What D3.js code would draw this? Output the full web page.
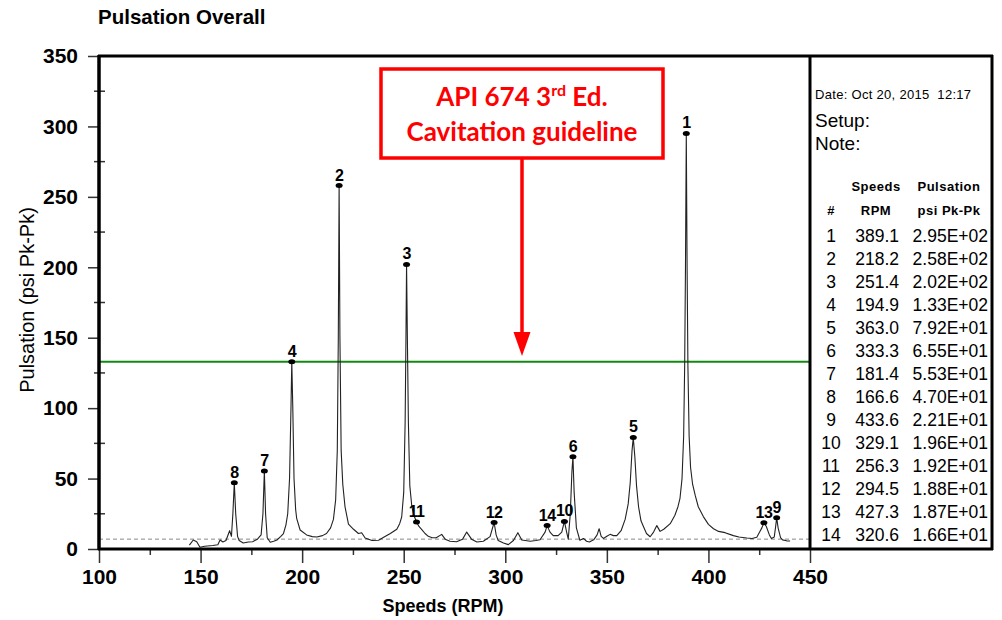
<!DOCTYPE html>
<html>
<head>
<meta charset="utf-8">
<script src="https://cdn.jsdelivr.net/npm/d3@7"></script>
<style>
body { margin: 0; background: #fff; }
svg { display: block; font-family: Arial, 'Liberation Sans', sans-serif; }
</style>
</head>
<body>
<div id="chart"></div>
<script>
'use strict';

const width = 1002;
const height = 620;

// axis ticks
const speedTicks = [100, 150, 200, 250, 300, 350, 400, 450];
const speedMinor = [125, 175, 225, 275, 325, 375, 425];
const pulsationTicks = [0, 50, 100, 150, 200, 250, 300, 350];
const pulsationMinor = [25, 75, 125, 175, 225, 275, 325];

// spectrum trace
const curveSpeed = [
	144.5, 146.4, 148.1, 149.7, 152, 156, 158.5, 159.6, 161, 162.5,
	164.3, 165.2, 165.9, 166.6, 167.3, 168.2, 169, 171, 173.5, 175.6,
	178, 179.8, 180.7, 181.4, 182, 182.8, 184.3, 186, 187.6, 189.5,
	190.8, 192, 192.9, 193.8, 194.5, 194.9, 195.4, 196, 196.8, 197.3,
	199, 202.2, 205, 207.2, 210, 212, 214, 215.4, 216.5, 217.3,
	217.8, 218.2, 218.6, 219.2, 220, 221.1, 222.8, 225.3, 227.7, 229.3,
	231, 234.4, 237.6, 241, 243.4, 246.6, 248, 249, 250, 250.7,
	251.1, 251.4, 251.8, 252.3, 253, 254, 255, 256.3, 257.5, 258.8,
	260.5, 262.1, 264, 266, 268.7, 270.4, 272.8, 276, 279, 281,
	283.4, 286, 289.2, 292.5, 294.5, 295.5, 296.5, 299.1, 301.5, 304,
	306.2, 308.1, 312.3, 315, 317.1, 319.6, 320.6, 322, 323.6, 326,
	327.8, 329.1, 330.2, 331, 332, 332.8, 333.3, 333.9, 335, 336.7,
	338.5, 340, 341.4, 343.5, 345.2, 346.2, 347.2, 348.3, 350, 351.6,
	353.2, 354.9, 357, 359, 360.5, 361.5, 362.4, 363.0, 363.8, 364.6,
	365.6, 366.8, 368, 369.5, 371.3, 373, 374.6, 376.2, 378, 381.2,
	383.5, 385, 386, 387, 387.8, 388.3, 388.7, 389.1, 389.5, 389.9,
	390.5, 391.2, 392.2, 393.5, 395, 397.5, 400, 402.5, 405, 408.2,
	412.3, 415, 418.9, 421.5, 423.8, 425.2, 426.3, 427.3, 428.5, 430,
	431, 432.4, 433, 433.6, 434.3, 435.5, 436.5, 438.5, 440.2
];
const curvePulsation = [
	2.8, 6.4, 5.2, 1.2, 2, 2.5, 3, 6.4, 5, 6,
	13, 9, 25, 47, 25, 9, 6, 4.3, 5, 5.2,
	7, 10, 25, 55.3, 25, 8, 4.8, 5.5, 6.4, 9,
	11, 17, 25, 50, 100, 133, 100, 50, 28, 21.8,
	13.5, 10, 8.8, 8.5, 9.5, 11, 15, 21, 35, 70,
	150, 258, 150, 70, 46, 30, 17.7, 14, 11, 11.5,
	7.8, 6, 6.2, 9, 11, 14, 18, 22.7, 40, 90,
	150, 202, 150, 90, 45, 30, 24, 19.2, 16, 14,
	11, 9, 8, 8, 10.4, 7, 5.5, 5.2, 7, 12,
	7, 5, 5.5, 8.8, 18.8, 10, 6, 4.3, 3.1, 6,
	11.6, 6.4, 5.5, 6, 6.6, 12, 16.6, 12, 9.5, 9.5,
	12, 19.6, 12, 7, 25, 55, 65.5, 40, 15, 6.2,
	7.5, 5.5, 5, 6.5, 10, 14.4, 9, 7.5, 9, 10.4,
	9.5, 9.5, 13, 21, 32, 47, 70, 79.2, 65, 45,
	30, 20, 16, 11, 8.7, 12, 16.6, 12.5, 14, 18,
	24, 30, 36, 50, 80, 130, 200, 295, 200, 130,
	80, 58, 46, 38, 30, 23, 17.5, 14.4, 12.5, 11.6,
	9.5, 8.5, 7.8, 7.5, 8.3, 12, 15, 18.7, 16, 10,
	7.5, 8.5, 15, 22.1, 15, 8, 6.5, 5.8, 5.7
];

// labelled peaks (also the table)
const peakNo = [1, 2, 3, 4, 5, 6, 7, 8, 9, 10, 11, 12, 13, 14];
const peakSpeed = [389.1, 218.2, 251.4, 194.9, 363.0, 333.3, 181.4, 166.6, 433.6, 329.1, 256.3, 294.5, 427.3, 320.6];
const peakPulsation = [295, 258, 202, 133, 79.2, 65.5, 55.3, 47.0, 22.1, 19.6, 19.2, 18.8, 18.7, 16.6];

const guideline = 133;
const noiseFloor = 7;

function sci(v) {
	const e = Math.floor(Math.log10(v));
	const m = (v / Math.pow(10, e)).toFixed(2);
	const sign = e < 0 ? '-' : '+';
	return m + 'E' + sign + String(Math.abs(e)).padStart(2, '0');
}

const svg = d3.select('#chart')
	.append('svg')
	.attr('width', width)
	.attr('height', height);

const x = d3.scaleLinear().domain([100, 450]).range([99, 810]);
const y = d3.scaleLinear().domain([0, 350]).range([549, 56]);

// title
svg.append('text')
	.attr('x', 98)
	.attr('y', 24)
	.style('font-size', '20.5px')
	.style('font-weight', 'bold')
	.text('Pulsation Overall');

// dashed noise floor
svg.append('line')
	.attr('x1', x(100)).attr('x2', x(450))
	.attr('y1', y(noiseFloor)).attr('y2', y(noiseFloor))
	.attr('stroke', '#888')
	.attr('stroke-width', 1)
	.attr('stroke-dasharray', '4,3');

// guideline
svg.append('line')
	.attr('x1', x(100)).attr('x2', x(450))
	.attr('y1', y(guideline)).attr('y2', y(guideline))
	.attr('stroke', '#108a10')
	.attr('stroke-width', 2);

// spectrum
const pts = curveSpeed.map((s, i) => [s, curvePulsation[i]]);
const line = d3.line().x(d => x(d[0])).y(d => y(d[1]));
svg.append('path')
	.datum(pts)
	.attr('d', line)
	.attr('fill', 'none')
	.attr('stroke', '#222')
	.attr('stroke-width', 1.1)
	.attr('stroke-linejoin', 'round');

// peak markers
const peaks = svg.append('g');
peakNo.forEach((n, i) => {
	peaks.append('ellipse')
		.attr('cx', x(peakSpeed[i]))
		.attr('cy', y(peakPulsation[i]))
		.attr('rx', 3.5).attr('ry', 2.5)
		.attr('fill', '#000');
	peaks.append('text')
		.attr('x', x(peakSpeed[i]))
		.attr('y', y(peakPulsation[i]) - 5)
		.attr('text-anchor', 'middle')
		.style('font-size', '16px')
		.style('font-weight', 'bold')
		.style('letter-spacing', '-0.6px')
		.text(n);
});

// axes
const yAxis = svg.append('g')
	.attr('transform', `translate(${x(100)},0)`)
	.call(d3.axisLeft(y).tickValues(pulsationTicks).tickSize(11).tickPadding(10));
yAxis.select('.domain').remove();
yAxis.selectAll('line').attr('stroke', '#333').attr('stroke-width', 1.5);
yAxis.selectAll('text')
	.style('font-size', '21px')
	.style('font-weight', 'bold')
	.style('font-family', 'Arial, Liberation Sans, sans-serif')
	.attr('fill', '#000');

svg.append('g').selectAll('line')
	.data(pulsationMinor)
	.enter().append('line')
	.attr('x1', x(100) - 5).attr('x2', x(100) + 6)
	.attr('y1', d => y(d)).attr('y2', d => y(d))
	.attr('stroke', '#333').attr('stroke-width', 1.5);

const xAxis = svg.append('g')
	.attr('transform', `translate(0,${y(0)})`)
	.call(d3.axisBottom(x).tickValues(speedTicks).tickSize(14).tickPadding(6));
xAxis.select('.domain').remove();
xAxis.selectAll('line').attr('stroke', '#333').attr('stroke-width', 1.5);
xAxis.selectAll('text')
	.style('font-size', '21px')
	.style('font-weight', 'bold')
	.style('font-family', 'Arial, Liberation Sans, sans-serif')
	.attr('fill', '#000');

const xMinor = svg.append('g')
	.attr('transform', `translate(0,${y(0)})`)
	.call(d3.axisBottom(x).tickValues(speedMinor).tickSize(6).tickFormat(''));
xMinor.select('.domain').remove();
xMinor.selectAll('line').attr('stroke', '#333').attr('stroke-width', 1.5);

// frame: plot + side panel
const frame = svg.append('g').attr('stroke', '#000').attr('fill', 'none');
frame.append('line').attr('x1', 98).attr('x2', 993).attr('y1', 56).attr('y2', 56).attr('stroke-width', 3);
frame.append('line').attr('x1', 98).attr('x2', 993).attr('y1', 549).attr('y2', 549).attr('stroke-width', 3);
frame.append('line').attr('x1', 99).attr('x2', 99).attr('y1', 55).attr('y2', 550).attr('stroke-width', 3.5);
frame.append('line').attr('x1', 810).attr('x2', 810).attr('y1', 55).attr('y2', 550).attr('stroke-width', 3);
frame.append('line').attr('x1', 992).attr('x2', 992).attr('y1', 55).attr('y2', 550).attr('stroke-width', 3);

// axis titles
svg.append('text')
	.attr('transform', 'translate(34,300) rotate(-90)')
	.attr('text-anchor', 'middle')
	.style('font-size', '20px')
	.text('Pulsation (psi Pk-Pk)');

svg.append('text')
	.attr('x', 443)
	.attr('y', 612)
	.attr('text-anchor', 'middle')
	.style('font-size', '18px')
	.style('font-weight', 'bold')
	.text('Speeds (RPM)');

// side panel
const panel = svg.append('g');
panel.append('text')
	.attr('x', 815).attr('y', 99)
	.style('font-size', '13px')
	.style('letter-spacing', '0.3px')
	.style('white-space', 'pre')
	.text('Date: Oct 20, 2015  12:17');
panel.append('text').attr('x', 815).attr('y', 127).style('font-size', '19px').text('Setup:');
panel.append('text').attr('x', 815).attr('y', 150).style('font-size', '19px').text('Note:');

const hdr = [['Speeds', 876, 191], ['Pulsation', 949, 191], ['#', 831, 215], ['RPM', 876, 215], ['psi Pk-Pk', 949, 215]];
hdr.forEach(h => {
	panel.append('text')
		.attr('x', h[1]).attr('y', h[2])
		.attr('text-anchor', 'middle')
		.style('font-size', '13px')
		.style('font-weight', 'bold')
		.style('letter-spacing', '0.5px')
		.text(h[0]);
});

peakNo.forEach((n, i) => {
	const ry = 242 + i * 23;
	panel.append('text').attr('x', 831).attr('y', ry).attr('text-anchor', 'middle')
		.style('font-size', '17.5px').text(n);
	panel.append('text').attr('x', 899).attr('y', ry).attr('text-anchor', 'end')
		.style('font-size', '17.5px').text(peakSpeed[i].toFixed(1));
	panel.append('text').attr('x', 988).attr('y', ry).attr('text-anchor', 'end')
		.style('font-size', '17.5px').text(sci(peakPulsation[i]));
});

// annotation
const note = svg.append('g');
note.append('rect')
	.attr('x', 381).attr('y', 69)
	.attr('width', 282).attr('height', 89)
	.attr('fill', '#fff')
	.attr('stroke', '#f00')
	.attr('stroke-width', 3.5);
note.append('line')
	.attr('x1', 522).attr('x2', 522)
	.attr('y1', 158).attr('y2', 334)
	.attr('stroke', '#f00')
	.attr('stroke-width', 3.5);
note.append('path')
	.attr('d', 'M513.5,332 L530.5,332 L522,356 Z')
	.attr('fill', '#f00');

const l1 = note.append('text')
	.attr('x', 522).attr('y', 106)
	.attr('text-anchor', 'middle')
	.attr('fill', '#f00')
	.style('font-family', 'Lato, Open Sans, sans-serif')
	.style('font-weight', 'bold')
	.style('font-size', '26px');
l1.append('tspan').text('API 674 3');
l1.append('tspan').attr('dy', -10).style('font-size', '16px').text('rd');
l1.append('tspan').attr('dy', 10).text(' Ed.');

note.append('text')
	.attr('x', 522).attr('y', 141)
	.attr('text-anchor', 'middle')
	.attr('fill', '#f00')
	.style('font-family', 'Lato, Open Sans, sans-serif')
	.style('font-weight', 'bold')
	.style('font-size', '26px')
	.text('Cavitation guideline');
</script>
</body>
</html>
